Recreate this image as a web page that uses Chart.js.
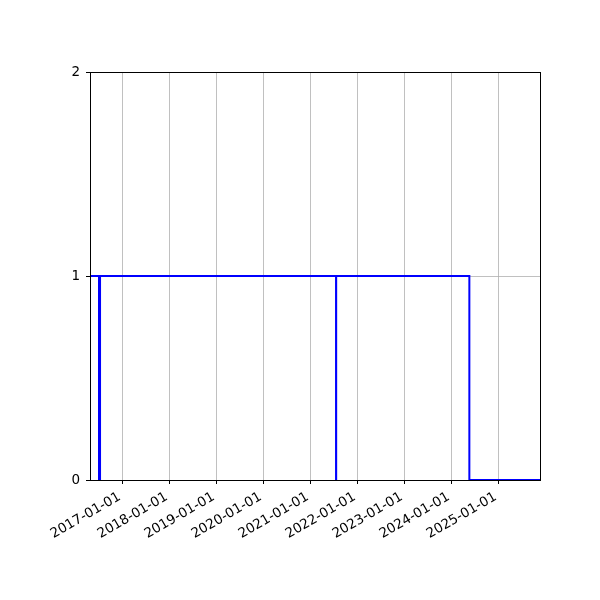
<!DOCTYPE html>
<html>
<head>
<meta charset="utf-8">
<script src="https://cdn.jsdelivr.net/npm/chart.js@4"></script>
<style>
  html, body { margin: 0; padding: 0; background: #fff; }
  #wrap { width: 600px; height: 600px; }
</style>
</head>
<body>
<div id="wrap"><canvas id="myChart" width="600" height="600"></canvas></div>
<script>
// step series: value holds from each date until the next one
var stepDates = ['2016-04-22', '2016-07-01', '2016-07-09', '2021-07-17', '2021-07-18', '2024-05-18', '2025-11-18'];
var stepValues = [1, 0, 1, 0, 1, 0, 0];
var xRange = ['2016-04-22', '2025-11-18'];
var tickLabels = ['2017-01-01', '2018-01-01', '2019-01-01', '2020-01-01', '2021-01-01',
	'2022-01-01', '2023-01-01', '2024-01-01', '2025-01-01'];
var yTicks = [0, 1, 2];

function toMs(s) {
	return Date.parse(s + 'T00:00:00Z');
}
function fmt(ms) {
	return new Date(ms).toISOString().slice(0, 10);
}

var points = [];
for (var i = 0; i < stepDates.length; i++) {
	points.push({x: toMs(stepDates[i]), y: stepValues[i]});
}

// black box around the plot area
var frame = {
	id: 'frame',
	afterDraw: function(chart) {
		var a = chart.chartArea, c = chart.ctx;
		c.save();
		c.strokeStyle = '#000';
		c.lineWidth = 1;
		c.strokeRect(Math.round(a.left) + 0.5, Math.round(a.top) + 0.5,
			Math.round(a.right - a.left), Math.round(a.bottom - a.top));
		c.restore();
	}
};

var font = {family: 'DejaVu Sans', size: 13.5};

var ctx = document.getElementById('myChart').getContext('2d');
var chart = new Chart(ctx, {
	type: 'line',
	data: {
		datasets: [{
			data: points,
			borderColor: '#0000ff',
			borderWidth: 2,
			pointRadius: 0,
			stepped: 'before',
			fill: false
		}]
	},
	options: {
		responsive: false,
		animation: false,
		layout: {padding: {left: 0, right: 60, top: 72, bottom: 0}},
		plugins: {legend: {display: false}, tooltip: {enabled: false}},
		scales: {
			x: {
				type: 'linear',
				min: toMs(xRange[0]),
				max: toMs(xRange[1]),
				afterBuildTicks: function(scale) {
					scale.ticks = tickLabels.map(function(t) { return {value: toMs(t)}; });
				},
				afterFit: function(scale) { scale.height = 120; },
				ticks: {
					autoSkip: false,
					minRotation: 30,
					maxRotation: 30,
					color: '#000',
					font: font,
					padding: 5,
					labelOffset: -3,
					callback: function(v) { return fmt(v); }
				},
				grid: {color: '#b0b0b0', lineWidth: 0.8, tickColor: '#000', tickLength: 4, tickWidth: 1},
				border: {display: true, color: '#000', width: 1}
			},
			y: {
				min: 0,
				max: 2,
				afterBuildTicks: function(scale) {
					scale.ticks = yTicks.map(function(v) { return {value: v}; });
				},
				afterFit: function(scale) { scale.width = 90; },
				ticks: {color: '#000', font: font, padding: 6},
				grid: {color: '#b0b0b0', lineWidth: 0.8, tickColor: '#000', tickLength: 4, tickWidth: 1},
				border: {display: true, color: '#000', width: 1}
			}
		}
	},
	plugins: [frame]
});
</script>
</body>
</html>
